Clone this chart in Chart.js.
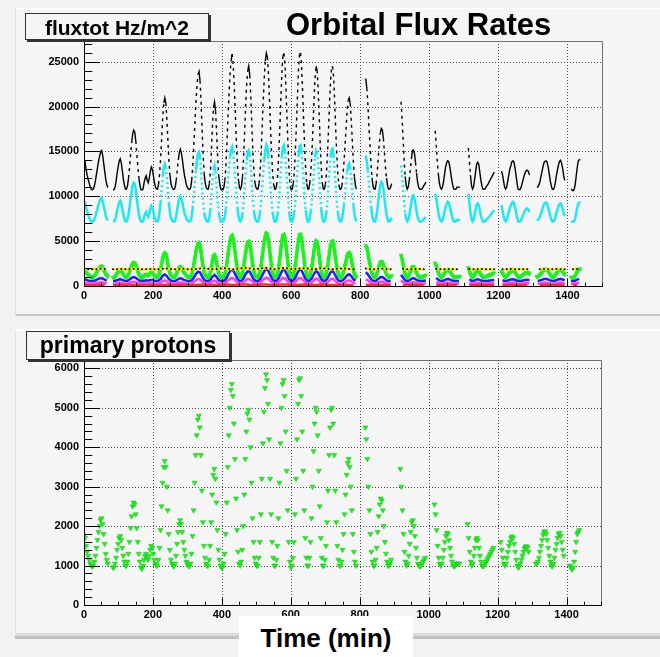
<!DOCTYPE html>
<html lang="en">
<head>
    <meta charset="UTF-8">
    <title>Orbital Flux Rates</title>
    <script src="https://cdn.jsdelivr.net/npm/chart.js"></script>
    <style>
        body {
            margin: 0;
            background: #f2f2f2;
            font-family: 'Liberation Sans', Arial, sans-serif;
        }

        #page {
            position: relative;
            width: 660px;
            height: 657px;
            overflow: hidden;
        }

        .pad {
            position: absolute;
            left: 15px;
            width: 645px;
            background: #f5f5f5;
            border-left: 1px solid #e2e2e2;
        }

        #padTop {
            top: 8px;
            height: 305px;
            border-top: 1px solid #fdfdfd;
            border-bottom: 2px solid #c6c6c6;
        }

        #padBottom {
            top: 329px;
            height: 302px;
            border-top: 2px solid #ffffff;
            border-bottom: 3px solid #dadada;
            box-shadow: 0 3px 0 #c0c0c0;
        }

        canvas {
            position: absolute;
            left: 0;
        }

        .boxLabel {
            position: absolute;
            box-sizing: border-box;
            background: #f5f5f5;
            border: 1px solid #333;
            box-shadow: 2px 2px 0 #333;
            font-weight: bold;
            text-align: center;
            white-space: nowrap;
        }

        #fluxLabel {
            left: 25px;
            top: 13px;
            width: 184px;
            height: 27px;
            font-size: 21px;
            line-height: 27px;
        }

        #protonLabel {
            left: 26px;
            top: 331px;
            width: 204px;
            height: 29px;
            font-size: 23px;
            line-height: 27px;
        }

        #mainTitle {
            position: absolute;
            left: 286px;
            top: 7px;
            font-size: 31px;
            font-weight: bold;
            white-space: nowrap;
        }

        #timeTitle {
            position: absolute;
            left: 239px;
            top: 616px;
            width: 174px;
            height: 41px;
            background: #fff;
            font-size: 26px;
            font-weight: bold;
            text-align: center;
            line-height: 44px;
        }
    </style>
</head>
<body>
<div id="page">
    <div class="pad" id="padTop"></div>
    <div class="pad" id="padBottom"></div>
    <canvas id="fluxChart" width="660" height="316" style="top:0"></canvas>
    <canvas id="protonChart" width="660" height="326" style="top:316px"></canvas>
    <div class="boxLabel" id="fluxLabel">fluxtot Hz/m^2</div>
    <div id="mainTitle">Orbital Flux Rates</div>
    <div class="boxLabel" id="protonLabel">primary protons</div>
    <div id="timeTitle">Time (min)</div>
</div>

<script>
    // sampling intervals (minutes) of the stored series
    const STEP_FINE = 3;
    const STEP_MID = 6;
    const STEP_COARSE = 12;

    // axis ticks
    const timeTicks = [0, 200, 400, 600, 800, 1000, 1200, 1400];
    const fluxTicks = [0, 5000, 10000, 15000, 20000, 25000];
    const protonTicks = [0, 1000, 2000, 3000, 4000, 5000, 6000];

    // total flux, every 3 min (null = no data)
    const fluxTotal = [
        14100, 13890, 13010, 12350, 11910, 11460, 11020, 10800, 10720, 10800,
        11140, 11710, 12440, 13170, 13860, 14420, 14930, 15100, 14590, 13690,
        12780, 11880, 11310, 10970, null, null, null, null, 10730, 10740,
        11020, 11680, 12620, 13280, 13940, 14170, 13720, 12840, 11910, 11240,
        10800, 10800, 11190, 12030, 13250, 14700, 15930, 16980, 17370, 17150,
        16150, 14700, 13250, 12030, 11190, 10730, 10690, 10800, 11510, 12010,
        12280, 11780, 11510, 12010, 12770, 13260, 12990, 12280, 11510, 11020,
        10800, 10800, 11360, 12540, 14230, 16530, 18830, 20400, 20960, 20400,
        18490, 16190, 13890, 12320, 11360, 10970, 10800, 10770, 10970, 11760,
        12930, 14060, 14840, 15230, 14840, 14060, 13100, 12320, 11760, 11190,
        10970, 10800, 10770, 10970, 11830, 13370, 15640, 18030, 20430, 22190,
        23550, 23900, 22870, 20480, 17350, 14610, 12510, 11480, 10970, 10800,
        10800, 11410, 12760, 15110, 17910, 19870, 20480, 19470, 17120, 14380,
        12370, 11410, 10800, 10730, 10730, 10970, 11780, 13390, 15970, 18850,
        21440, 23680, 25120, 25850, 24660, 22410, 19480, 16260, 13680, 11950,
        10970, 10800, 11140, 12170, 14220, 16960, 20030, 22430, 23970, 24500,
        23450, 21060, 17980, 14900, 12850, 11480, 10970, 10800, 10800, 11430,
        12700, 14950, 17770, 20600, 23140, 25090, 25950, 25500, 23820, 20940,
        17770, 14950, 12700, 11430, 10800, 10800, 11260, 12410, 14650, 17580,
        20800, 23730, 25630, 25900, 24660, 21780, 18560, 15340, 12750, 11140,
        10730, 10800, 11430, 12700, 15000, 17870, 21040, 23970, 25870, 25950,
        24610, 21730, 18510, 15290, 13040, 11430, 10800, 10800, 11480, 12850,
        14900, 17590, 20670, 23060, 24500, 24040, 22040, 18960, 15880, 13190,
        11480, 10800, 10800, 11310, 12510, 14610, 17350, 20480, 22870, 24410,
        24450, 23210, 20480, 17350, 14610, 12510, 11310, 10800, 10800, 11190,
        12320, 13840, 15750, 17660, 19570, 20690, 20950, 20300, 18390, 16140,
        13840, 12150, 11190, 10800, null, null, null, null, null, null,
        null, null, 23120, 22040, 20280, 17840, 15740, 13640, 12050, 11140,
        10800, 10800, 11410, 12590, 14210, 15830, 17000, 17550, 17390, 16440,
        14820, 13200, 12030, 11190, 10800, 10800, 11020, 11410, null, null,
        null, null, null, null, null, null, 20530, 18740, 16390, 13990,
        12200, 11190, 10800, 11020, 11810, 12980, 14160, 15060, 15150, 14770,
        13770, 12590, 11580, 11020, 10800, 10770, 10800, 10970, 11190, 11360,
        11580, null, null, null, null, null, null, null, null, 17300,
        15800, 13900, 12510, 11480, 10970, 10800, 11020, 11580, 12420, 13250,
        13700, 13950, 13880, 13350, 12600, 11800, 11190, 10800, 10770, 10800,
        11020, 11020, 11020, 11020, null, null, null, null, null, null,
        null, 15390, 13840, 12350, 11240, 10800, 11020, 11860, 12740, 13570,
        13790, 13570, 12740, 11860, 11240, 10800, 10770, 10800, 11020, 11190,
        11360, 11580, 11810, 12030, 12250, 12470, 12690, null, null, null,
        null, null, null, 12800, 12400, 11680, 11020, 10800, 11020, 11680,
        12350, 13010, 13400, 13840, 13950, 13800, 13180, 12350, 11460, 10800,
        10730, 10770, 11020, 11460, 11910, 12350, 12660, 12880, 12900, 12740,
        12350, null, null, null, null, null, null, 11020, 11020, 11240,
        11580, 12150, 12710, 13270, 13750, 13900, 13950, 13800, 13270, 12540,
        11760, 11190, 10800, 10770, 10970, 11580, 12320, 12930, 13490, 13890,
        14000, 13670, 13100, 12320, 11760, null, null, null, null, null,
        10800, 10730, 10610, 10730, 11190, 12150, 13100, 13890, 14050, 14100
    ];

    // cyan component, every 3 min
    const fluxCyan = [
        9450, 9300, 8700, 8250, 7950, 7650, 7350, 7200, 7150, 7200,
        7400, 7750, 8200, 8650, 9050, 9400, 9700, 9800, 9500, 8950,
        8400, 7850, 7500, 7300, null, null, null, null, 7200, 7200,
        7350, 7800, 8450, 8900, 9350, 9500, 9200, 8600, 7950, 7500,
        7200, 7200, 7450, 8000, 8800, 9750, 10550, 11250, 11500, 11350,
        10700, 9750, 8800, 8000, 7450, 7200, 7200, 7200, 7700, 8050,
        8250, 7900, 7700, 8050, 8600, 8950, 8750, 8250, 7700, 7350,
        7200, 7200, 7550, 8300, 9350, 10800, 12250, 13250, 13600, 13250,
        12050, 10600, 9150, 8150, 7550, 7300, 7200, 7200, 7300, 7800,
        8550, 9250, 9750, 10000, 9750, 9250, 8650, 8150, 7800, 7450,
        7300, 7200, 7200, 7300, 7800, 8700, 10050, 11450, 12850, 13900,
        14700, 14900, 14300, 12900, 11050, 9450, 8200, 7600, 7300, 7200,
        7200, 7600, 8450, 9950, 11750, 13000, 13400, 12750, 11250, 9500,
        8200, 7600, 7200, 7200, 7200, 7300, 7750, 8650, 10100, 11700,
        13150, 14400, 15200, 15500, 14950, 13700, 12050, 10250, 8800, 7850,
        7300, 7200, 7400, 8000, 9200, 10800, 12600, 14000, 14900, 15100,
        14600, 13200, 11400, 9600, 8400, 7600, 7300, 7200, 7200, 7550,
        8250, 9500, 11050, 12600, 14000, 15100, 15700, 15400, 14400, 12800,
        11050, 9500, 8250, 7550, 7200, 7200, 7450, 8100, 9350, 11000,
        12800, 14450, 15500, 15700, 14950, 13350, 11550, 9750, 8300, 7400,
        7200, 7200, 7550, 8250, 9550, 11150, 12900, 14550, 15600, 15700,
        14900, 13300, 11500, 9700, 8450, 7550, 7200, 7200, 7600, 8400,
        9600, 11150, 12950, 14350, 15100, 14900, 13750, 11950, 10150, 8600,
        7600, 7200, 7200, 7500, 8200, 9450, 11050, 12900, 14300, 15200,
        15300, 14500, 12900, 11050, 9450, 8200, 7500, 7200, 7200, 7450,
        8150, 9100, 10300, 11500, 12700, 13400, 13650, 13150, 11950, 10550,
        9100, 8050, 7450, 7200, null, null, null, null, null, null,
        null, null, 14550, 13900, 12850, 11400, 10150, 8900, 7950, 7400,
        7200, 7200, 7600, 8350, 9400, 10450, 11200, 11600, 11450, 10850,
        9800, 8750, 8000, 7450, 7200, 7200, 7350, 7600, null, null,
        null, null, null, null, null, null, 13450, 12300, 10800, 9250,
        8100, 7450, 7200, 7350, 7850, 8600, 9350, 10000, 10100, 9750,
        9100, 8350, 7700, 7350, 7200, 7200, 7200, 7300, 7450, 7550,
        7700, null, null, null, null, null, null, null, null, 10300,
        9800, 9000, 8200, 7600, 7300, 7200, 7350, 7700, 8250, 8800,
        9150, 9380, 9300, 8900, 8400, 7850, 7450, 7200, 7200, 7200,
        7350, 7350, 7350, 7350, null, null, null, null, null, null,
        null, 10300, 9250, 8250, 7500, 7200, 7350, 7900, 8500, 9050,
        9200, 9050, 8500, 7900, 7500, 7200, 7200, 7200, 7350, 7450,
        7550, 7700, 7850, 8000, 8150, 8300, 8450, null, null, null,
        null, null, null, 9000, 8400, 7800, 7350, 7200, 7350, 7800,
        8250, 8700, 8950, 9250, 9380, 9250, 8800, 8250, 7650, 7200,
        7200, 7200, 7350, 7650, 7950, 8250, 8450, 8600, 8640, 8500,
        8250, null, null, null, null, null, null, 7350, 7350, 7500,
        7700, 8050, 8400, 8750, 9100, 9250, 9300, 9150, 8750, 8300,
        7800, 7450, 7200, 7200, 7300, 7700, 8150, 8550, 8900, 9150,
        9200, 9000, 8650, 8150, 7800, null, null, null, null, null,
        7200, 7200, 7150, 7200, 7450, 8050, 8650, 9150, 9300, 9400
    ];

    // primary protons, every 3 min
    const primaryProtons = [
        1750, 1700, 1500, 1350, 1250, 1150, 1050, 1000, 980, 1000,
        1100, 1250, 1450, 1650, 1850, 2000, 2150, 2200, 2050, 1800,
        1550, 1300, 1150, 1050, null, null, null, null, 950, 960,
        1050, 1200, 1400, 1550, 1700, 1750, 1650, 1450, 1250, 1100,
        1000, 1000, 1100, 1300, 1600, 1950, 2250, 2500, 2600, 2550,
        2300, 1950, 1600, 1300, 1100, 950, 920, 1000, 1150, 1250,
        1300, 1200, 1150, 1250, 1400, 1500, 1450, 1300, 1150, 1050,
        1000, 1000, 1150, 1450, 1900, 2500, 3100, 3500, 3650, 3500,
        3000, 2400, 1800, 1400, 1150, 1050, 1000, 980, 1050, 1250,
        1550, 1850, 2050, 2150, 2050, 1850, 1600, 1400, 1250, 1100,
        1050, 1000, 980, 1050, 1300, 1750, 2400, 3100, 3800, 4300,
        4700, 4800, 4500, 3800, 2900, 2100, 1500, 1200, 1050, 1000,
        1000, 1150, 1500, 2100, 2800, 3300, 3450, 3200, 2600, 1900,
        1400, 1150, 1000, 950, 950, 1050, 1300, 1800, 2600, 3500,
        4300, 5000, 5450, 5600, 5300, 4600, 3700, 2700, 1900, 1350,
        1050, 1000, 1100, 1400, 2000, 2800, 3700, 4400, 4850, 4950,
        4700, 4000, 3100, 2200, 1600, 1200, 1050, 1000, 1000, 1200,
        1600, 2300, 3200, 4100, 4900, 5500, 5850, 5700, 5100, 4200,
        3200, 2300, 1600, 1200, 1000, 1000, 1150, 1500, 2200, 3100,
        4100, 5000, 5600, 5700, 5300, 4400, 3400, 2400, 1600, 1100,
        950, 1000, 1200, 1600, 2300, 3200, 4200, 5100, 5700, 5750,
        5300, 4400, 3400, 2400, 1700, 1200, 1000, 1000, 1200, 1600,
        2200, 3000, 3900, 4600, 5000, 4900, 4300, 3400, 2500, 1700,
        1200, 1000, 1000, 1150, 1500, 2100, 2900, 3800, 4500, 4950,
        5000, 4600, 3800, 2900, 2100, 1500, 1150, 1000, 1000, 1100,
        1400, 1800, 2300, 2800, 3300, 3600, 3700, 3500, 3000, 2400,
        1800, 1350, 1100, 1000, null, null, null, null, null, null,
        null, null, 4500, 4200, 3700, 3000, 2400, 1800, 1350, 1100,
        1000, 1000, 1150, 1450, 1850, 2250, 2550, 2700, 2650, 2400,
        2000, 1600, 1300, 1100, 1000, 1000, 1050, 1150, null, null,
        null, null, null, null, null, null, 3450, 3000, 2400, 1800,
        1350, 1100, 1000, 1050, 1250, 1550, 1850, 2100, 2150, 2000,
        1750, 1450, 1200, 1050, 1000, 980, 1000, 1050, 1100, 1150,
        1200, null, null, null, null, null, null, null, null, 2550,
        2300, 1900, 1500, 1200, 1050, 1000, 1050, 1200, 1400, 1600,
        1750, 1830, 1800, 1650, 1450, 1250, 1100, 1000, 980, 1000,
        1050, 1050, 1050, 1050, null, null, null, null, null, null,
        null, 2050, 1700, 1350, 1100, 1000, 1050, 1250, 1450, 1650,
        1700, 1650, 1450, 1250, 1100, 1000, 980, 1000, 1050, 1100,
        1150, 1200, 1250, 1300, 1350, 1400, 1450, null, null, null,
        null, null, null, 1600, 1400, 1200, 1050, 1000, 1050, 1200,
        1350, 1500, 1600, 1700, 1740, 1700, 1550, 1350, 1150, 1000,
        950, 980, 1050, 1150, 1250, 1350, 1430, 1480, 1490, 1450,
        1350, null, null, null, null, null, null, 1050, 1050, 1100,
        1200, 1350, 1500, 1650, 1780, 1850, 1870, 1800, 1650, 1450,
        1250, 1100, 1000, 980, 1050, 1200, 1400, 1550, 1700, 1800,
        1830, 1750, 1600, 1400, 1250, null, null, null, null, null,
        1000, 950, 900, 950, 1100, 1350, 1600, 1800, 1850, 1900
    ];

    // blue component, every 6 min
    const fluxBlue = [
        760, 690, 620, 560, 550,   580, 680, 790, 870, 840,
        700, 590, null, null, 550,   560, 660, 750, 730, 620,
        550, 580, 720, 900, 1000,   910, 720, 580, 550, 590,
        630, 590, 660, 680, 590,   550, 590, 800, 1140, 1290,
        1110, 770, 590, 550, 560,   700, 840, 840, 720, 620,
        560, 550, 630, 940, 1330,   1590, 1530, 1080, 690, 560,
        550, 690, 1050, 1240, 1000,   660, 550, 550, 630, 1000,
        1470, 1800, 1750, 1310, 800,   560, 580, 830, 1310, 1630,
        1590, 1140, 720, 560, 550,   720, 1170, 1640, 1910, 1700,
        1170, 720, 550, 590, 890,   1420, 1840, 1750, 1220, 720,
        550, 610, 910, 1450, 1870,   1750, 1220, 750, 550, 610,
        890, 1360, 1670, 1470, 970,   610, 550, 690, 1080, 1530,
        1670, 1330, 860, 590, 550,   660, 910, 1190, 1310, 1110,
        770, 580, null, null, null,   null, 1530, 1310, 940, 650,
        550, 590, 790, 980, 1010,   830, 630, 550, 560, null,
        null, null, null, 1240, 940,   650, 550, 620, 790, 870,
        760, 610, 550, 550, 580,   610, null, null, null, null,
        910, 690, 560, 560, 660,   760, 770, 680, 580, 550,
        560, 560, null, null, null,   null, 750, 580, 560, 680,
        750, 680, 580, 550, 560,   590, 620, 650, 680, null,
        null, null, 660, 560, 560,   650, 720, 760, 700, 590,
        550, 560, 620, 670, 690,   650, null, null, null, 560,
        610, 690, 770, 790, 730,   620, 550, 560, 660, 750,
        780, 720, 620, null, null,   550, 550, 580, 720, 790
    ];

    // magenta component, every 6 min
    const fluxMagenta = [
        360, 320, 290, 260, 250,   270, 320, 370, 410, 400,
        330, 270, null, null, 250,   260, 310, 350, 340, 290,
        250, 270, 340, 430, 480,   430, 340, 270, 250, 270,
        290, 270, 305, 315, 270,   250, 270, 380, 550, 620,
        530, 360, 270, 250, 260,   330, 400, 400, 340, 290,
        260, 250, 290, 450, 640,   770, 740, 520, 320, 260,
        250, 320, 500, 600, 480,   310, 250, 250, 290, 480,
        710, 880, 850, 630, 380,   255, 265, 390, 630, 790,
        770, 550, 340, 260, 250,   340, 560, 800, 930, 830,
        560, 335, 250, 270, 420,   690, 900, 850, 590, 340,
        250, 280, 430, 700, 910,   850, 590, 350, 250, 280,
        420, 660, 810, 710, 460,   280, 250, 320, 520, 740,
        810, 640, 410, 270, 250,   310, 430, 570, 630, 530,
        360, 270, null, null, null,   null, 740, 630, 450, 300,
        250, 270, 370, 470, 480,   390, 290, 250, 260, null,
        null, null, null, 600, 450,   300, 250, 290, 370, 410,
        360, 280, 250, 250, 270,   280, null, null, null, null,
        430, 320, 260, 260, 310,   360, 360, 320, 270, 250,
        260, 260, null, null, null,   null, 350, 270, 260, 320,
        350, 320, 270, 250, 260,   270, 290, 300, 320, null,
        null, null, 310, 260, 260,   300, 340, 360, 330, 270,
        250, 260, 290, 310, 320,   300, null, null, null, 260,
        280, 320, 360, 370, 340,   290, 250, 260, 310, 350,
        370, 340, 290, null, null,   250, 250, 270, 340, 370
    ];

    // yellow component, every 12 min
    const fluxYellow = [
        1900, 1880, 1860, 1880, 1920, 1900, null, 1860, 1870, 1890,
        1870, 1880, 1910, 1900, 1870, 1880, 1890, 1870, 1880, 1930,
        1960, 1900, 1870, 1890, 1920, 1880, 1870, 1900, 1950, 1980,
        1920, 1880, 1900, 1960, 1990, 1930, 1880, 1920, 1980, 2000,
        1940, 1880, 1920, 1990, 2000, 1920, 1880, 1950, 2000, 1980,
        1900, 1890, 1960, 1990, 1950, 1880, 1900, 1970, 1960, 1900,
        1880, 1920, 1950, 1940, 1890, 1880, null, null, 1950, 1900,
        1880, 1910, 1920, 1890, 1870, null, null, 1920, 1880, 1870,
        1900, 1890, 1870, null, null, 1900, 1880, 1870, 1890, 1880,
        1870, null, null, 1890, 1870, 1880, 1890, 1870, 1870, 1880,
        null, 1880, 1870, 1890, 1880, 1870, 1880, 1880, null, null,
        1880, 1890, 1870, 1880, 1890, 1880, 1870, null, 1870, 1890
    ];

    // red component, every 12 min
    const fluxRed = [
        100, 90, 90, 100, 110, 100, null, 90, 90, 100,
        90, 100, 110, 100, 90, 90, 100, 90, 100, 120,
        140, 100, 90, 100, 120, 100, 90, 110, 140, 160,
        120, 100, 110, 150, 170, 130, 100, 120, 160, 180,
        130, 100, 120, 170, 180, 120, 100, 140, 180, 160,
        110, 100, 150, 170, 140, 100, 110, 160, 150, 110,
        100, 120, 140, 130, 100, 100, null, null, 140, 110,
        100, 110, 120, 100, 90, null, null, 120, 100, 90,
        100, 100, 90, null, null, 100, 90, 90, 100, 90,
        90, null, null, 100, 90, 90, 100, 90, 90, 90,
        null, 90, 90, 100, 90, 90, 90, 90, null, null,
        90, 100, 90, 90, 100, 90, 90, null, 90, 100
    ];

    function timeSeries(values, step) {
        return values.map((v, i) => ({ x: i * step, y: v }));
    }

    const tickFont = { family: "'Liberation Sans', Arial, sans-serif", size: 11, weight: 'bold' };
    const greenColor = '#1ff01f';

    // frame, dotted grid and inside tick marks in the old analysis-package look
    function framePlugin(xMajor, yMajor, xMinor, yMinor) {
        return {
            id: 'frame',
            beforeDatasetsDraw(chart) {
                const { ctx, chartArea: a, scales: { x, y } } = chart;
                ctx.save();
                ctx.strokeStyle = '#4a4a4a';
                ctx.lineWidth = 1;
                ctx.setLineDash([1, 2]);
                ctx.beginPath();
                xMajor.forEach(v => {
                    if (v === 0) return;
                    const px = Math.round(x.getPixelForValue(v)) + 0.5;
                    ctx.moveTo(px, a.top);
                    ctx.lineTo(px, a.bottom);
                });
                yMajor.forEach(v => {
                    if (v === 0) return;
                    const py = Math.round(y.getPixelForValue(v)) + 0.5;
                    ctx.moveTo(a.left, py);
                    ctx.lineTo(a.right, py);
                });
                ctx.stroke();
                ctx.restore();
            },
            afterDatasetsDraw(chart) {
                const { ctx, chartArea: a, scales: { x, y } } = chart;
                const left = Math.round(a.left) + 0.5;
                const bottom = Math.round(a.bottom) + 0.5;
                const top = Math.round(a.top) + 0.5;
                const right = Math.round(a.right) + 0.5;
                ctx.save();
                ctx.lineWidth = 1;

                // top and right edges of the frame
                ctx.strokeStyle = '#707070';
                ctx.beginPath();
                ctx.moveTo(left, top);
                ctx.lineTo(right, top);
                ctx.lineTo(right, bottom);
                ctx.stroke();

                ctx.strokeStyle = '#000';
                ctx.beginPath();
                ctx.moveTo(left, top);
                ctx.lineTo(left, bottom);
                ctx.lineTo(right, bottom);

                const yLong = a.width * 0.03;
                for (let v = 0; v <= y.max; v += yMinor) {
                    const py = Math.round(y.getPixelForValue(v)) + 0.5;
                    const len = yMajor.includes(v) ? yLong : yLong / 2;
                    ctx.moveTo(left, py);
                    ctx.lineTo(left + len, py);
                }
                const xLong = a.height * 0.03;
                for (let v = 0; v <= x.max; v += xMinor) {
                    const px = Math.round(x.getPixelForValue(v)) + 0.5;
                    const len = xMajor.includes(v) ? xLong : xLong / 2;
                    ctx.moveTo(px, bottom);
                    ctx.lineTo(px, bottom - len);
                }
                ctx.stroke();
                ctx.restore();
            }
        };
    }

    function timeAxis(height) {
        return {
            type: 'linear',
            min: 0,
            max: 1500,
            grid: { display: false, drawTicks: false },
            border: { display: false },
            ticks: { font: tickFont, color: '#000', padding: 3, maxRotation: 0, autoSkip: false, callback: v => String(v) },
            afterBuildTicks: s => { s.ticks = timeTicks.map(v => ({ value: v })); },
            afterFit: s => { s.height = height; }
        };
    }

    function valueAxis(max, ticks) {
        return {
            type: 'linear',
            min: 0,
            max: max,
            grid: { display: false, drawTicks: false },
            border: { display: false },
            ticks: { font: tickFont, color: '#000', padding: 5, callback: v => String(v) },
            afterBuildTicks: s => { s.ticks = ticks.map(v => ({ value: v })); },
            afterFit: s => { s.width = 84; }
        };
    }

    // steep segments show up as broken dashes, like sparse samples
    const steepDash = dash => ctx => Math.abs(ctx.p1.y - ctx.p0.y) > 10 ? dash : undefined;

    const lineDefaults = { showLine: true, spanGaps: false, pointRadius: 0, tension: 0 };

    // upper panel: all flux components
    new Chart(document.getElementById('fluxChart'), {
        type: 'line',
        data: {
            datasets: [
                Object.assign({}, lineDefaults, {
                    data: timeSeries(fluxTotal, STEP_FINE),
                    borderColor: '#000', borderWidth: 1.4,
                    segment: { borderDash: steepDash([3, 4]) }
                }),
                Object.assign({}, lineDefaults, {
                    data: timeSeries(fluxYellow, STEP_COARSE),
                    borderColor: '#f0f000', borderWidth: 2.5,
                    pointRadius: 1, pointBackgroundColor: '#000', pointBorderWidth: 0
                }),
                Object.assign({}, lineDefaults, {
                    data: timeSeries(fluxRed, STEP_COARSE),
                    borderColor: '#ff2a2a', borderWidth: 2.5
                }),
                Object.assign({}, lineDefaults, {
                    data: timeSeries(fluxMagenta, STEP_MID),
                    borderColor: '#ff38ff', borderWidth: 2.5
                }),
                Object.assign({}, lineDefaults, {
                    data: timeSeries(fluxBlue, STEP_MID),
                    borderColor: '#1e1eff', borderWidth: 2.5
                }),
                Object.assign({}, lineDefaults, {
                    data: timeSeries(primaryProtons, STEP_FINE),
                    borderColor: greenColor, borderWidth: 3.5,
                    pointRadius: 2.8, pointStyle: 'triangle', rotation: 180,
                    pointBackgroundColor: greenColor, pointBorderWidth: 0
                }),
                Object.assign({}, lineDefaults, {
                    data: timeSeries(fluxCyan, STEP_FINE),
                    borderColor: '#1ee8f0', borderWidth: 2.5,
                    segment: { borderDash: steepDash([2, 3]) }
                })
            ]
        },
        options: {
            responsive: false,
            animation: false,
            events: [],
            layout: { padding: { left: 0, right: 58, top: 41, bottom: 0 } },
            plugins: { legend: { display: false }, tooltip: { enabled: false } },
            scales: { x: timeAxis(30), y: valueAxis(27300, fluxTicks) }
        },
        plugins: [framePlugin(timeTicks, fluxTicks, 50, 1000)]
    });

    // lower panel: primary protons only, as markers
    new Chart(document.getElementById('protonChart'), {
        type: 'line',
        data: {
            datasets: [{
                data: timeSeries(primaryProtons, STEP_FINE),
                showLine: false,
                pointStyle: 'triangle',
                rotation: 180,
                pointRadius: 3,
                pointBackgroundColor: greenColor,
                pointBorderColor: '#19c019',
                pointBorderWidth: 0.5
            }]
        },
        options: {
            responsive: false,
            animation: false,
            events: [],
            layout: { padding: { left: 0, right: 59, top: 44, bottom: 0 } },
            plugins: { legend: { display: false }, tooltip: { enabled: false } },
            scales: { x: timeAxis(37), y: valueAxis(6210, protonTicks) }
        },
        plugins: [framePlugin(timeTicks, protonTicks, 50, 200)]
    });
</script>
</body>
</html>
